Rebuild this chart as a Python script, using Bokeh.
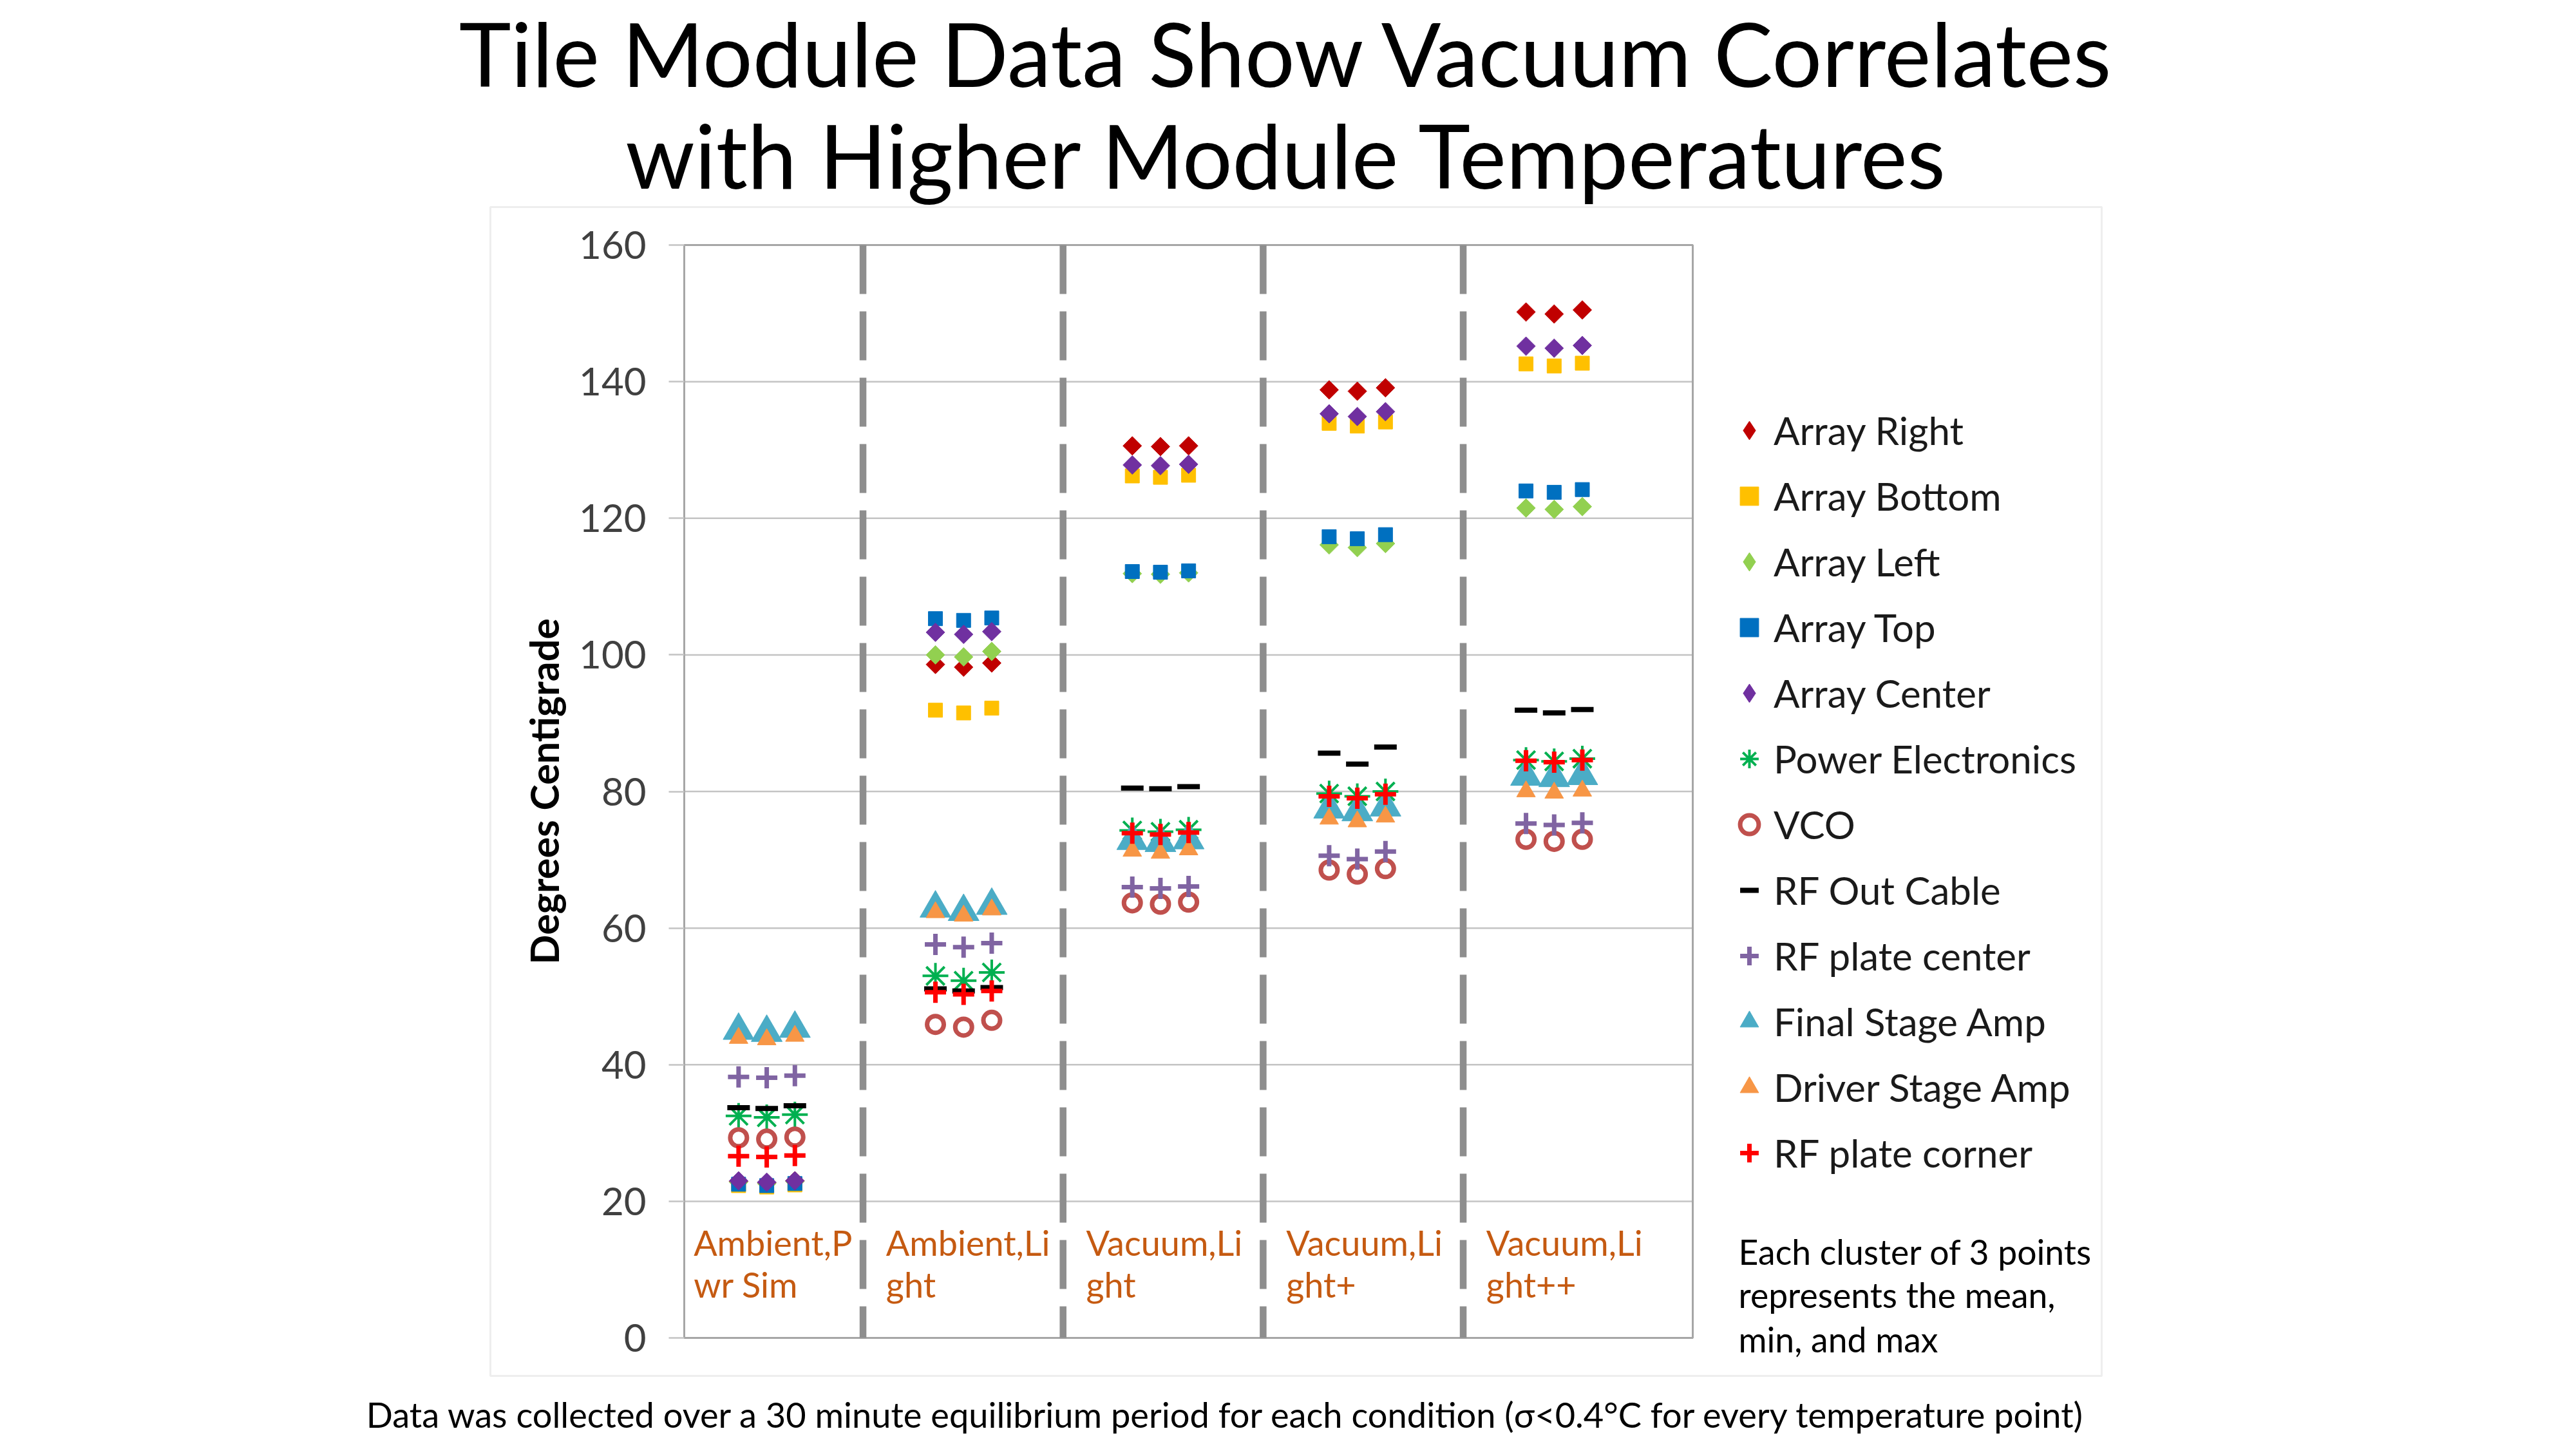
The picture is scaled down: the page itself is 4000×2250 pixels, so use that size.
import numpy as np
from bokeh.plotting import figure
from bokeh.models import (ColumnDataSource, Range1d, FixedTicker, Label, Legend,
                          LegendItem, BoxAnnotation)
from bokeh.core.properties import value
from bokeh.embed import file_html
from bokeh.resources import INLINE

# ---------------- data ----------------
conditions = ["Ambient,Pwr Sim", "Ambient,Light", "Vacuum,Light", "Vacuum,Light+", "Vacuum,Light++"]
cond_line1 = ["Ambient,P", "Ambient,Li", "Vacuum,Li", "Vacuum,Li", "Vacuum,Li"]
cond_line2 = ["wr Sim", "ght", "ght", "ght+", "ght++"]
stat_names = ["mean", "min", "max"]
y_ticks = [0, 20, 40, 60, 80, 100, 120, 140, 160]

# values per series: 5 conditions x (mean, min, max)
array_right = [22.9, 22.7, 23.0, 98.6, 98.2, 98.8, 130.6, 130.5, 130.6, 138.8, 138.6, 139.1, 150.2, 149.9, 150.5]
array_bottom = [22.3, 22.1, 22.4, 91.9, 91.5, 92.2, 126.2, 126.0, 126.3, 133.9, 133.5, 134.1, 142.6, 142.3, 142.7]
array_left = [22.8, 22.6, 22.9, 100.0, 99.7, 100.5, 111.9, 111.8, 112.0, 116.1, 115.7, 116.3, 121.5, 121.3, 121.7]
array_top = [22.5, 22.3, 22.6, 105.3, 105.05, 105.4, 112.2, 112.1, 112.3, 117.3, 117.0, 117.6, 124.0, 123.8, 124.2]
array_center = [23.0, 22.8, 23.0, 103.3, 103.0, 103.4, 127.8, 127.7, 127.9, 135.3, 134.9, 135.6, 145.2, 144.9, 145.3]
power_electronics = [32.5, 32.3, 32.7, 53.0, 52.3, 53.5, 74.3, 74.1, 74.4, 79.7, 79.3, 80.0, 84.6, 84.4, 84.8]
vco = [29.3, 29.1, 29.4, 45.9, 45.5, 46.5, 63.7, 63.5, 63.8, 68.5, 67.9, 68.7, 73.0, 72.7, 73.0]
rf_out_cable = [33.7, 33.6, 34.0, 51.1, 50.8, 51.3, 80.5, 80.4, 80.7, 85.6, 84.0, 86.5, 91.9, 91.5, 92.0]
rf_plate_center = [38.2, 38.1, 38.4, 57.6, 57.2, 57.8, 66.0, 65.8, 66.1, 70.6, 70.1, 71.2, 75.3, 75.1, 75.4]
final_stage_amp = [45.0, 44.7, 45.3, 62.9, 62.4, 63.3, 72.8, 72.5, 72.9, 77.4, 77.0, 77.7, 82.2, 82.0, 82.3]
driver_stage_amp = [43.9, 43.7, 44.2, 62.3, 61.8, 62.7, 71.3, 71.0, 71.5, 76.0, 75.6, 76.3, 80.0, 79.8, 80.1]
rf_plate_corner = [26.6, 26.5, 26.7, 50.6, 50.3, 50.8, 73.9, 73.7, 74.0, 79.3, 79.0, 79.6, 84.5, 84.3, 84.6]

series_names = ["Array Right", "Array Bottom", "Array Left", "Array Top", "Array Center",
                "Power Electronics", "VCO", "RF Out Cable", "RF plate center",
                "Final Stage Amp", "Driver Stage Amp", "RF plate corner"]
series_values = [array_right, array_bottom, array_left, array_top, array_center,
                 power_electronics, vco, rf_out_cable, rf_plate_center,
                 final_stage_amp, driver_stage_amp, rf_plate_corner]

# ---------------- styles ----------------
ROT = np.pi / 4
styles = {
    "Array Right": dict(marker="square", size=20.5, angle=ROT, fill_color="#C00000", line_color="#C00000", line_width=1),
    "Array Bottom": dict(marker="square", size=22, fill_color="#FFC000", line_color="#FFC000", line_width=1),
    "Array Left": dict(marker="square", size=20.5, angle=ROT, fill_color="#92D050", line_color="#92D050", line_width=1),
    "Array Top": dict(marker="square", size=22, fill_color="#0070C0", line_color="#0070C0", line_width=1),
    "Array Center": dict(marker="square", size=20.5, angle=ROT, fill_color="#7030A0", line_color="#7030A0", line_width=1),
    "Power Electronics": dict(marker="asterisk", size=40, line_color="#00B050", line_width=4),
    "VCO": dict(marker="circle", size=26, fill_alpha=0, line_color="#C0504D", line_width=7),
    "RF Out Cable": dict(marker="dash", size=35, line_color="black", line_width=8),
    "RF plate center": dict(marker="cross", size=33, line_color="#8064A2", line_width=7),
    "Final Stage Amp": dict(marker="triangle", size=48, fill_color="#4BACC6", line_color="#4BACC6", line_width=1),
    "Driver Stage Amp": dict(marker="triangle", size=29, fill_color="#F79646", line_color="#F79646", line_width=1),
    "RF plate corner": dict(marker="cross", size=33, line_color="#FF0000", line_width=7),
}

# ---------------- geometry (canvas px) ----------------
W, H = 4000, 2250
FRAME_LEFT = 400                    # left panel reserved for the y axis
PA_L, PA_R, PA_T, PA_B = 1062, 2628, 380, 2077   # plot-area box on the canvas
X_MIN, X_MAX = 0.581, 5.704
Y_MIN, Y_MAX = 0.0, 160.0
sx = (PA_R - PA_L) / (X_MAX - X_MIN)
sy = (PA_B - PA_T) / (Y_MAX - Y_MIN)
xr = Range1d(X_MIN - (PA_L - FRAME_LEFT) / sx, X_MAX + (W - PA_R) / sx)
yr = Range1d(Y_MIN - (H - PA_B) / sy, Y_MAX + PA_T / sy)
BASE_SHIFT = 0.387   # text anchor sits this many em above the wanted baseline

OFFSETS = [-0.143, 0.0, 0.143]
SEP_X = [1.489 + 1.0163 * k for k in range(len(conditions) - 1)]
xs = [i + 1 + OFFSETS[j] for i in range(len(conditions)) for j in range(len(stat_names))]

# ---------------- figure ----------------
p = figure(width=W, height=H, output_backend="svg", toolbar_location=None,
           x_range=xr, y_range=yr, x_axis_location=None, title=None,
           min_border_left=FRAME_LEFT, min_border_right=0, min_border_top=0, min_border_bottom=0,
           background_fill_color="white", border_fill_color="white")
p.outline_line_color = None
p.xgrid.visible = False
p.ygrid.visible = False

ax = p.yaxis[0]
ax.fixed_location = X_MIN
ax.bounds = (Y_MIN, Y_MAX)
ax.ticker = FixedTicker(ticks=y_ticks)
ax.axis_line_color = "#A6A6A6"
ax.axis_line_width = 3
ax.major_tick_out = 24
ax.major_tick_in = 0
ax.major_tick_line_color = "#C4C4C4"
ax.major_tick_line_width = 2.5
ax.minor_tick_line_color = None
ax.major_label_standoff = 35
ax.major_label_text_font = "Lato"
ax.major_label_text_font_size = "60px"
ax.major_label_text_color = "#404040"
ax.axis_label = "Degrees Centigrade"
ax.axis_label_text_font = "Lato"
ax.axis_label_text_font_style = "bold"
ax.axis_label_text_font_size = "61px"
ax.axis_label_text_color = "black"
ax.axis_label_standoff = 15

# horizontal gridlines inside the plot area
p.segment(x0=[X_MIN] * len(y_ticks), y0=y_ticks, x1=[X_MAX] * len(y_ticks), y1=y_ticks,
          line_color="#C4C4C4", line_width=2.5)
# plot-area border
p.quad(left=[X_MIN], right=[X_MAX], bottom=[Y_MIN], top=[Y_MAX],
       fill_color=None, line_color="#A6A6A6", line_width=3)

# separators
p.segment(x0=SEP_X, y0=[Y_MAX] * len(SEP_X), x1=SEP_X, y1=[Y_MIN] * len(SEP_X),
          line_color="#8E8E8E", line_width=10.5, line_dash="76 27")

# category labels (two wrapped lines, baselines at ~12.0 and ~5.85)
CAT_FS = 54
lab_x = [X_MIN + 0.048] + [s + 0.117 for s in SEP_X]
lab_shift = BASE_SHIFT * CAT_FS / sy
p.text(x=lab_x, y=[12.0 + lab_shift] * len(conditions), text=cond_line1, text_font=value("Lato"),
       text_font_size=f"{CAT_FS}px", text_color="#C55A11", text_align="left", text_baseline="alphabetic")
p.text(x=lab_x, y=[5.85 + lab_shift] * len(conditions), text=cond_line2, text_font=value("Lato"),
       text_font_size=f"{CAT_FS}px", text_color="#C55A11", text_align="left", text_baseline="alphabetic")

# series
renderers = {}
for name, vals in zip(series_names, series_values):
    src = ColumnDataSource(dict(x=xs, y=vals,
                                condition=[c for c in conditions for _ in stat_names],
                                stat=stat_names * len(conditions)))
    renderers[name] = p.scatter("x", "y", source=src, **styles[name])

# legend (diamond series shown with diamond markers)
legend_items = []
for name in series_names:
    st = dict(styles[name])
    if "angle" in st:
        st.pop("angle")
        st["marker"] = "diamond"
        r = p.scatter(x=[np.nan], y=[np.nan], **st)
    else:
        r = renderers[name]
    legend_items.append(LegendItem(label=name, renderers=[r]))

LEG_X, LEG_TOP = 2680, 630
LEG_H = 12 * 76 + 11 * 26
legend = Legend(items=legend_items, location=(LEG_X - FRAME_LEFT, H - (LEG_TOP + LEG_H)),
                orientation="vertical",
                glyph_width=72, glyph_height=76, label_standoff=2, spacing=26,
                padding=0, margin=0, label_text_font="Lato", label_text_font_size="60px",
                label_text_color="#1A1A1A", border_line_alpha=0, background_fill_alpha=0)
p.add_layout(legend)

# outer chart border
p.add_layout(BoxAnnotation(left=761, right=3263, top=321, bottom=2136,
                           left_units="canvas", right_units="canvas",
                           top_units="canvas", bottom_units="canvas",
                           fill_alpha=0, line_color="#C8C8C8", line_width=3))


def canvas_label(text, x, baseline, size, align="left", color="black"):
    p.add_layout(Label(x=x, y=baseline - BASE_SHIFT * size, x_units="canvas", y_units="canvas",
                       text=text, text_font="Lato", text_font_size=f"{size}px", text_color=color,
                       text_align=align, text_baseline="alphabetic"))


canvas_label("Tile Module Data Show Vacuum Correlates", 1999, 135, 137, "center")
canvas_label("with Higher Module Temperatures", 1999, 293, 137, "center")
canvas_label("Each cluster of 3 points", 2699, 1963, 53.5)
canvas_label("represents the mean,", 2699, 2030, 53.5)
canvas_label("min, and max", 2699, 2099, 53.5)
canvas_label("Data was collected over a 30 minute equilibrium period for each condition "
             "(\u03c3<0.4\u00b0C for every temperature point)", 1903, 2217, 54.2, "center")

open("out.html", "w").write(file_html(p, INLINE))
